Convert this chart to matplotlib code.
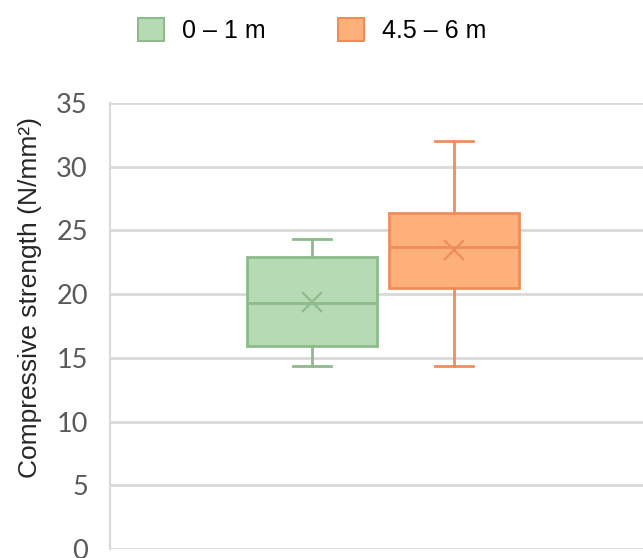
import matplotlib.pyplot as plt
from matplotlib.patches import Patch

# depth groups and box statistics (N/mm2)
groups = ["0 – 1 m", "4.5 – 6 m"]
whislo = [14.4, 14.4]
q1 = [15.9, 20.5]
med = [19.3, 23.7]
q3 = [22.9, 26.4]
whishi = [24.3, 32.0]
mean = [19.4, 23.5]

fills = ["#b6dbb4", "#fdb07a"]
edges = ["#8dbb8b", "#ee8d5b"]

stats = []
for i, name in enumerate(groups):
    stats.append(dict(label=name, whislo=whislo[i], q1=q1[i], med=med[i],
                      q3=q3[i], whishi=whishi[i], mean=mean[i], fliers=[]))

fig = plt.figure(figsize=(6.43, 5.58), dpi=100)
ax = fig.add_axes([0.1711, 0.0161, 0.849, 0.7993])

for i, st in enumerate(stats):
    ax.bxp([st], positions=[i], widths=0.92, capwidths=0.27, showmeans=True,
           patch_artist=True, manage_ticks=False,
           boxprops=dict(facecolor=fills[i], edgecolor=edges[i], linewidth=2),
           medianprops=dict(color=edges[i], linewidth=2),
           whiskerprops=dict(color=edges[i], linewidth=2),
           capprops=dict(color=edges[i], linewidth=2),
           meanprops=dict(marker="x", markersize=15, markeredgecolor=edges[i],
                          markeredgewidth=1.6))

ax.set_xlim(-1.43, 2.43)
ax.set_ylim(0, 35)
ax.set_yticks(range(0, 36, 5))
ax.set_xticks([])
ax.grid(axis="y", color="#d9d9d9", linewidth=2)
ax.set_axisbelow(True)
for s in ["top", "right", "bottom"]:
    ax.spines[s].set_visible(False)
ax.spines["left"].set_color("#d9d9d9")
ax.spines["left"].set_linewidth(1.5)
ax.tick_params(axis="y", length=0, pad=16, labelsize=19.5, labelcolor="#595959")
for lab in ax.get_yticklabels():
    lab.set_fontfamily("Lato")

ax.set_ylabel("Compressive strength (N/mm²)", fontsize=19, color="#262626",
              family="Liberation Sans")
ax.yaxis.set_label_coords(-0.124, 0.563)

handles = [Patch(facecolor=fills[i], edgecolor=edges[i], linewidth=1.5, label=groups[i])
           for i in range(len(groups))]
fig.legend(handles=handles, loc="center left", bbox_to_anchor=(0.18, 0.945), ncol=2,
           frameon=False, prop=dict(family="Liberation Sans", size=18),
           handlelength=1.05, handleheight=1.0, handletextpad=0.7, columnspacing=2.9)

plt.savefig("out.png", dpi=100)
